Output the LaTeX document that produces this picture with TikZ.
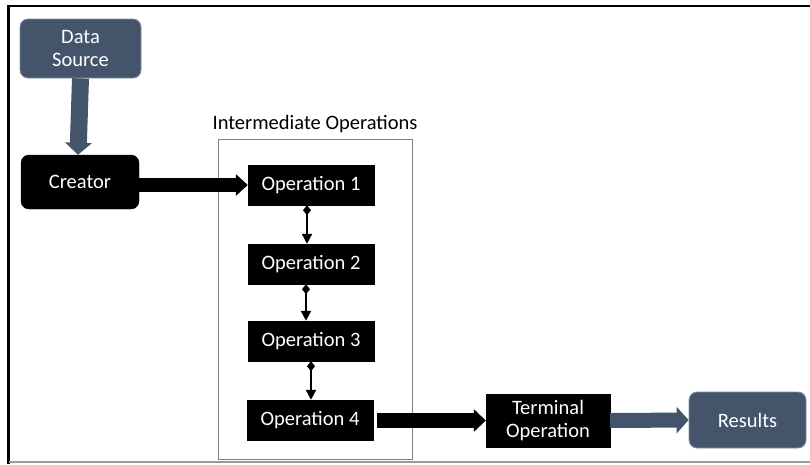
\documentclass[tikz,border=0pt]{standalone}
\usepackage{fontspec}
\setmainfont{Carlito}
\usetikzlibrary{arrows.meta,calc}
\definecolor{slate}{HTML}{44546A}
\definecolor{slateedge}{HTML}{7F8FA6}
\definecolor{boxgray}{HTML}{808080}
\begin{document}
\begin{tikzpicture}[x=1pt,y=-1pt,
  every node/.style={font=\fontsize{20.5}{23}\selectfont},
  slatebox/.style={draw=slateedge,line width=0.8,fill=slate,rounded corners=8,text=white,align=center,inner sep=0},
  blackround/.style={draw=black,fill=black,rounded corners=8,text=white,align=center,inner sep=0},
  opbox/.style={draw=black,fill=black,text=white,align=center,inner sep=0,minimum width=126,minimum height=40},
  blockarrow/.style={line width=15,-{Triangle[length=12,width=22]}},
  smallarrow/.style={line width=2.2,{Diamond[length=10,width=8]}-{Triangle[length=10,width=10]}}
]
\useasboundingbox (0,0) rectangle (810,464);
% frame
\draw[line width=2.6,black] (8.5,464) -- (8.5,6) -- (810,6);
\draw[line width=1.5,boxgray!80] (8.5,462) -- (810,462);

% intermediate container
\node[draw=boxgray,line width=1,minimum width=194,minimum height=320,inner sep=0] (inter) at (315,299) {};
\node[anchor=south] (interlabel) at (315,136) {Intermediate Operations};

% nodes
\node[slatebox,minimum width=121,minimum height=59] (ds) at (80.5,48.5) {Data\\Source};
\node[blackround,minimum width=118,minimum height=54] (creator) at (80,182) {\raisebox{-1.5pt}{Creator}};
\node[opbox] (op1) at (311,185) {\raisebox{-1pt}{Operation 1}};
\node[opbox] (op2) at (311,264) {\raisebox{-1pt}{Operation 2}};
\node[opbox] (op3) at (311,341) {\raisebox{-1pt}{Operation 3}};
\node[opbox] (op4) at (310,420) {\raisebox{-1pt}{Operation 4}};
\node[opbox,minimum width=124,minimum height=53] (term) at (548,420.5) {Terminal\\Operation};
\node[slatebox,minimum width=117,minimum height=56] (res) at (747.5,420) {\raisebox{-1pt}{Results}};

% block arrows
\draw[blockarrow,line width=17,-{Triangle[length=12,width=26]},draw=slate] (ds.south) -- ([xshift=-2]creator.north);
\draw[blockarrow,line width=14,-{Triangle[length=12,width=21]},draw=black] ([xshift=-2]creator.east |- op1.west) -- (op1.west);
\draw[blockarrow,draw=black] ([xshift=4]op4.east |- term.west) -- (term.west);
\draw[blockarrow,-{Triangle[length=12,width=26]},draw=slate] (term.east) -- (res.west);

% small connectors
\draw[smallarrow] ([xshift=-4]op1.south) -- ([xshift=-4]op2.north);
\draw[smallarrow] ([xshift=-5]op2.south) -- ([xshift=-5]op3.north);
\draw[smallarrow] ([xshift=0]op3.south) -- ([xshift=1]op4.north);
\end{tikzpicture}
\end{document}
